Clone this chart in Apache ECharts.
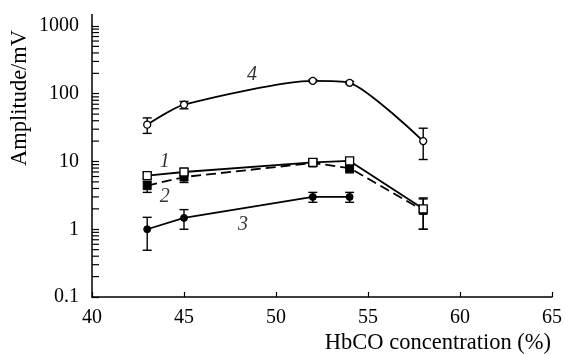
<!DOCTYPE html>
<html><head><meta charset="utf-8">
<script src="https://cdn.jsdelivr.net/npm/echarts@6/dist/echarts.min.js"></script>
<style>html,body{margin:0;padding:0;background:#fff}#c{width:565px;height:354px}</style>
</head><body><div id="c"></div>
<script>
// ---- data ----
const xTicks = [40, 45, 50, 55, 60, 65];
const yTickLabels = ['0.1', '1', '10', '100', '1000'];
const yMinorTicks = [0.2,0.3,0.4,0.5,0.6,0.7,0.8,0.9, 2,3,4,5,6,7,8,9, 20,30,40,50,60,70,80,90, 200,300,400,500,600,700,800,900];

const s1x = [43, 45, 52, 54, 58];
const s1y = [6.2, 7.0, 9.7, 10.2, 2.0];
const s1lo = [5.6, 6.3, 8.6, 9.2, 1.0];
const s1hi = [6.8, 7.8, 10.9, 11.2, 2.9];

const s2x = [43, 45, 52, 54, 58];
const s2y = [4.4, 5.9, 9.5, 8.0, 1.9];
const s2lo = [3.5, 4.9, 8.6, 6.8, 1.0];
const s2hi = [5.1, 6.8, 10.6, 8.9, 2.8];

const s3x = [43, 45, 52, 54];
const s3y = [1.0, 1.47, 3.0, 3.0];
const s3lo = [0.49, 1.0, 2.5, 2.5];
const s3hi = [1.5, 1.95, 3.5, 3.5];

const s4x = [43, 45, 52, 54, 58];
const s4y = [35, 69, 155, 145, 20];
const s4lo = [26, 60, 150, 140, 10.7];
const s4hi = [44, 77, 162, 152, 31];

const curveLabels = ['1', '2', '3', '4'];
const curveLabelX = [43.95, 43.95, 48.2, 48.7];
const curveLabelY = [10, 3.0, 1.17, 188];

(function () {
const FONT = 'Liberation Serif';
const zip = (xs, ys) => xs.map((x, i) => [x, ys[i]]);
const zip3 = (xs, lo, hi) => xs.map((x, i) => [x, lo[i], hi[i]]);

function errRender(params, api) {
  const x = api.value(0);
  const p1 = api.coord([x, api.value(1)]);
  const p2 = api.coord([x, api.value(2)]);
  const hw = 4.5;
  const st = {stroke: '#000', lineWidth: 1.4};
  return {type: 'group', children: [
    {type: 'line', shape: {x1: p1[0], y1: p1[1], x2: p2[0], y2: p2[1]}, style: st},
    {type: 'line', shape: {x1: p1[0]-hw, y1: p1[1], x2: p1[0]+hw, y2: p1[1]}, style: st},
    {type: 'line', shape: {x1: p2[0]-hw, y1: p2[1], x2: p2[0]+hw, y2: p2[1]}, style: st}
  ]};
}
function errSeries(data, z) {
  return {type: 'custom', renderItem: errRender, data: data, z: z,
    encode: {x: 0, y: [1, 2]}, silent: true};
}

const chart = echarts.init(document.getElementById('c'), null, {renderer: 'canvas'});
const option = {
  animation: false,
  backgroundColor: '#fff',
  grid: {left: 92, right: 12, top: 26, bottom: 57},
  xAxis: {
    type: 'value', min: 40, max: 65, interval: 5,
    axisLine: {lineStyle: {color: '#000', width: 1.5}},
    axisTick: {inside: true, length: 5, lineStyle: {color: '#000', width: 1.2}},
    splitLine: {show: false},
    axisLabel: {color: '#000', fontFamily: FONT, fontSize: 20, margin: 11,
      formatter: v => String(xTicks.find(t => t === v) ?? v)}
  },
  yAxis: {
    type: 'log', logBase: 10, min: 0.1, max: 1000,
    axisLine: {show: true, lineStyle: {color: '#000', width: 1.5}},
    axisTick: {show: true, inside: true, length: 7, lineStyle: {color: '#000', width: 1.2}},
    splitLine: {show: false},
    axisLabel: {color: '#000', fontFamily: FONT, fontSize: 20, margin: 13,
      formatter: v => yTickLabels[Math.round(Math.log10(v)) + 1]}
  },
  series: [
    {type: 'custom', silent: true, data: yMinorTicks.map(v => [40, v]),
      renderItem: (params, api) => {
        const p = api.coord([api.value(0), api.value(1)]);
        return {type: 'line', shape: {x1: p[0], y1: p[1], x2: p[0] + 7, y2: p[1]},
          style: {stroke: '#000', lineWidth: 1.2}};
      }},
    {type: 'line', data: zip(s4x, s4y), smooth: 0.22, symbol: 'circle', symbolSize: 7,
      lineStyle: {color: '#000', width: 1.8},
      itemStyle: {color: '#fff', borderColor: '#000', borderWidth: 1.3}, z: 3},
    errSeries(zip3(s4x, s4lo, s4hi), 2),
    {type: 'line', data: zip(s3x, s3y), symbol: 'circle', symbolSize: 7,
      lineStyle: {color: '#000', width: 1.8},
      itemStyle: {color: '#000', borderColor: '#000', borderWidth: 1}, z: 3},
    errSeries(zip3(s3x, s3lo, s3hi), 2),
    {type: 'line', data: zip(s2x, s2y), symbol: 'rect', symbolSize: 8,
      lineStyle: {color: '#000', width: 1.8, type: [10, 5]},
      itemStyle: {color: '#000', borderColor: '#000', borderWidth: 1}, z: 3},
    errSeries(zip3(s2x, s2lo, s2hi), 2),
    {type: 'line', data: zip(s1x, s1y), symbol: 'rect', symbolSize: 8,
      lineStyle: {color: '#000', width: 1.8},
      itemStyle: {color: '#fff', borderColor: '#000', borderWidth: 1.3}, z: 4},
    errSeries(zip3(s1x, s1lo, s1hi), 2),
    {type: 'scatter', symbolSize: 0, silent: true, z: 5,
      data: curveLabels.map((t, i) => ({value: [curveLabelX[i], curveLabelY[i]], name: t})),
      label: {show: true, position: 'inside', formatter: p => p.name, color: '#000',
        fontFamily: FONT, fontStyle: 'italic', fontSize: 20}}
  ],
  graphic: [
    {id: 'yname', type: 'text', x: 20, y: 98, rotation: Math.PI / 2,
      style: {text: 'Amplitude/mV', font: '22.5px "Liberation Serif"', fill: '#000',
        textAlign: 'center', textVerticalAlign: 'middle'}},
    {id: 'xname', type: 'text', x: 551, y: 343,
      style: {text: 'HbCO concentration (%)', font: '22.5px "Liberation Serif"', fill: '#000',
        textAlign: 'right', textVerticalAlign: 'middle'}}
  ]
};
chart.setOption(option);
const yTop = chart.convertToPixel({yAxisIndex: 0}, 1000);
const xLeft = chart.convertToPixel({xAxisIndex: 0}, 40);
chart.setOption({graphic: [{id: 'ext', type: 'line',
  shape: {x1: xLeft, y1: yTop - 12, x2: xLeft, y2: yTop},
  style: {stroke: '#000', lineWidth: 1.5}}]});
})();
</script></body></html>
